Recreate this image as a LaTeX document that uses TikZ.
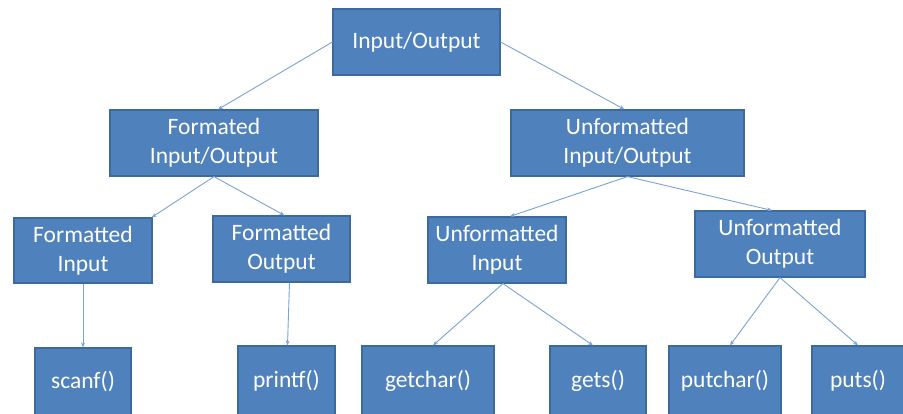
\documentclass[tikz,border=0pt]{standalone}
\usepackage{fontspec}
\setmainfont{Carlito}
\usetikzlibrary{arrows.meta,calc}
\definecolor{boxfill}{HTML}{4F81BD}
\definecolor{boxedge}{HTML}{3B6A9E}
\definecolor{linkc}{HTML}{7EA3D3}
\begin{document}
\begin{tikzpicture}[x=1pt,y=-1pt,
  box/.style={draw=boxedge,line width=1.2pt,fill=boxfill,text=white,align=center,
    font=\fontsize{23.5}{29}\selectfont,inner sep=0pt},
  link/.style={draw=linkc,line width=0.9pt,-{Stealth[length=5pt,width=4pt]}}]
\useasboundingbox (0,0) rectangle (903,413);
\fill[white] (0,0) rectangle (903,413);
\node[box,minimum width=167pt,minimum height=66pt] (root) at (416.5,42) {Input/Output};
\node[box,minimum width=208pt,minimum height=66pt] (fio) at (214,143) {Formated\\Input/Output};
\node[box,minimum width=233pt,minimum height=66pt] (uio) at (627.5,143) {Unformatted\\Input/Output};
\node[box,minimum width=138pt,minimum height=65pt] (fi) at (83,250.5) {Formatted\\Input};
\node[box,minimum width=137pt,minimum height=66pt] (fo) at (281.5,249) {Formatted\\Output};
\node[box,minimum width=138pt,minimum height=66pt] (ui) at (497,250) {Unformatted\\Input};
\node[box,minimum width=170pt,minimum height=66pt] (uo) at (780,244) {Unformatted\\Output};
\node[box,minimum width=96pt,minimum height=68pt] (scanf) at (83,382) {scanf()};
\node[box,minimum width=97pt,minimum height=70pt] (printf) at (286.5,381) {printf()};
\node[box,minimum width=132pt,minimum height=70pt] (getchar) at (428,381) {getchar()};
\node[box,minimum width=96pt,minimum height=70pt] (gets) at (598,381) {gets()};
\node[box,minimum width=112pt,minimum height=70pt] (putchar) at (725,381) {putchar()};
\node[box,minimum width=92pt,minimum height=70pt] (puts) at (858,381) {puts()};
\coordinate (fitop) at ($(fi.north east)+(-1,0)$);
\coordinate (uitop) at ($(ui.north)+(13,0)$);
\draw[link] (root.west) -- ($(fio.north)+(4,0)$);
\draw[link] (root.east) -- ($(uio.north)+(-3,0)$);
\draw[link] (fio.south) -- (fitop);
\draw[link] (fio.south) -- ($(fo.north)+(3,0)$);
\draw[link] (uio.south) -- (uitop);
\draw[link] (uio.south) -- ($(uo.north)+(-8,0)$);
\draw[link] (fi.south) -- (scanf.north);
\draw[link] ($(fo.south)+(8,0)$) -- ($(printf.north)+(1,0)$);
\draw[link] ($(ui.south)+(6,0)$) -- ($(getchar.north)+(5,0)$);
\draw[link] ($(ui.south)+(6,0)$) -- ($(gets.north)+(-5,0)$);
\draw[link] (uo.south) -- ($(putchar.north)+(5,0)$);
\draw[link] (uo.south) -- (puts.north);
\end{tikzpicture}
\end{document}
